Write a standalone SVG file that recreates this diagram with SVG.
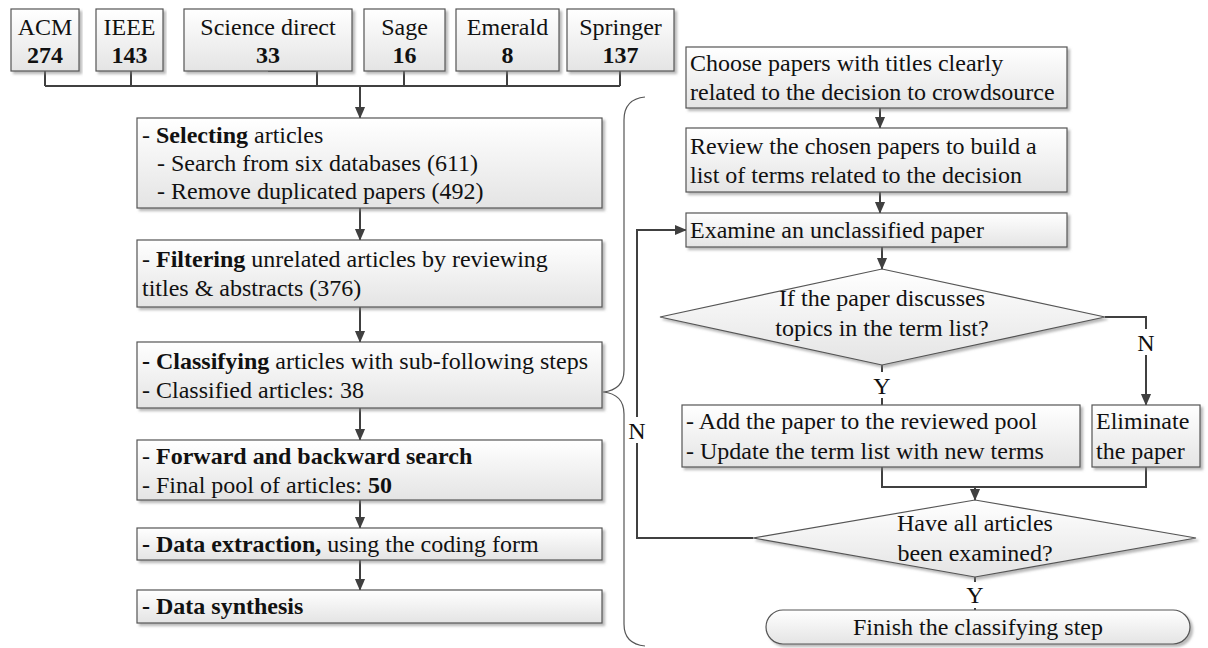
<svg xmlns="http://www.w3.org/2000/svg" width="1208" height="648" viewBox="0 0 1208 648">
<defs>
<linearGradient id="g" x1="0" y1="0" x2="0" y2="1">
<stop offset="0" stop-color="#ffffff"/>
<stop offset="1" stop-color="#e4e4e4"/>
</linearGradient>
<filter id="sh" x="-5%" y="-10%" width="110%" height="130%">
<feDropShadow dx="2.5" dy="2.5" stdDeviation="1.2" flood-color="#808080" flood-opacity="0.55"/>
</filter>
<marker id="ah" markerWidth="12" markerHeight="14" refX="13" refY="6" viewBox="0 0 14 12" orient="auto" markerUnits="userSpaceOnUse">
<path d="M0,0 L14,6 L0,12 Z" fill="#404040"/>
</marker>
</defs>
<style>
.b{fill:url(#g);stroke:#555;stroke-width:1.2;filter:url(#sh)}
.t{font-family:"Liberation Serif","Times New Roman",serif;font-size:24px;fill:#111}
.c{text-anchor:middle}
.bd{font-weight:bold}
.cn{fill:none;stroke:#404040;stroke-width:2}
.ar{marker-end:url(#ah)}
.br{fill:none;stroke:#555;stroke-width:1.2}
.lb{fill:#fff;stroke:none}
</style>

<g id="connectors">
<path class="cn" d="M45,71 V86 M131,71 V86 M268,71 H317 V86 M404,71 V86 M507,71 V86 M620,71 V86 M45,86 H620"/>
<path class="cn ar" d="M360,86 V118"/>
<path class="cn ar" d="M360,208 V240"/>
<path class="cn ar" d="M360,307 V342"/>
<path class="cn ar" d="M360,408 V440"/>
<path class="cn ar" d="M360,500 V528"/>
<path class="cn ar" d="M360,560 V590"/>
<path class="cn ar" d="M880,108 V128"/>
<path class="cn ar" d="M880,192 V213"/>
<path class="cn ar" d="M882,247 V269"/>
<path class="cn" d="M882,365 V405"/>
<path class="cn ar" d="M1105,317 H1146 V405"/>
<path class="cn" d="M882,467 V487 H1146 V467"/>
<path class="cn ar" d="M975,487 V500"/>
<path class="cn" d="M975,577 V610"/>
<path class="cn ar" d="M753,538 H637 V230 H686"/>
<path class="br" d="M645,97 Q624,99 624,120 V370 Q624,390 603,392 Q624,394 624,414 V624 Q624,644 645,646"/>
<rect class="lb" x="870" y="372" width="24" height="26"/>
<text class="t c" x="882" y="394">Y</text>
<rect class="lb" x="1134" y="329" width="24" height="26"/>
<text class="t c" x="1146" y="351">N</text>
<rect class="lb" x="625" y="417" width="24" height="26"/>
<text class="t c" x="637" y="439">N</text>
<rect class="lb" x="963" y="582" width="24" height="26"/>
<text class="t c" x="975" y="603">Y</text>
</g>

<g id="acm"><rect class="b" x="11" y="9" width="68" height="62"/><text class="t c" x="45" y="35">ACM</text><text class="t c bd" x="45" y="63">274</text></g>
<g id="ieee"><rect class="b" x="96" y="9" width="67" height="62"/><text class="t c" x="129.5" y="35">IEEE</text><text class="t c bd" x="129.5" y="63">143</text></g>
<g id="sciencedirect"><rect class="b" x="184" y="9" width="168" height="62"/><text class="t c" x="268" y="35">Science direct</text><text class="t c bd" x="268" y="63">33</text></g>
<g id="sage"><rect class="b" x="364" y="9" width="81" height="62"/><text class="t c" x="404.5" y="35">Sage</text><text class="t c bd" x="404.5" y="63">16</text></g>
<g id="emerald"><rect class="b" x="456" y="9" width="103" height="62"/><text class="t c" x="507.5" y="35">Emerald</text><text class="t c bd" x="507.5" y="63">8</text></g>
<g id="springer"><rect class="b" x="567" y="9" width="107" height="62"/><text class="t c" x="620.5" y="35">Springer</text><text class="t c bd" x="620.5" y="63">137</text></g>

<g id="selecting"><rect class="b" x="137" y="118" width="465" height="90"/>
<text class="t" x="142" y="143">- <tspan class="bd">Selecting</tspan> articles</text>
<text class="t" x="157" y="171">- Search from six databases (611)</text>
<text class="t" x="157" y="199">- Remove duplicated papers (492)</text></g>
<g id="filtering"><rect class="b" x="137" y="240" width="465" height="67"/>
<text class="t" x="142" y="267">- <tspan class="bd">Filtering</tspan> unrelated articles by reviewing</text>
<text class="t" x="142" y="296">titles &amp; abstracts (376)</text></g>
<g id="classifying"><rect class="b" x="137" y="342" width="465" height="66"/>
<text class="t" x="142" y="369"><tspan class="bd">- Classifying</tspan> articles with sub-following steps</text>
<text class="t" x="142" y="398">- Classified articles: 38</text></g>
<g id="forward"><rect class="b" x="137" y="440" width="465" height="60"/>
<text class="t" x="142" y="464">- <tspan class="bd">Forward and backward search</tspan></text>
<text class="t" x="142" y="493">- Final pool of articles: <tspan class="bd">50</tspan></text></g>
<g id="extraction"><rect class="b" x="137" y="528" width="465" height="32"/>
<text class="t" x="142" y="552"><tspan class="bd">- Data extraction,</tspan> using the coding form</text></g>
<g id="synthesis"><rect class="b" x="137" y="590" width="465" height="33"/>
<text class="t bd" x="142" y="614">- Data synthesis</text></g>

<g id="choose"><rect class="b" x="686" y="47" width="381" height="61"/>
<text class="t" x="690" y="71">Choose papers with titles clearly</text>
<text class="t" x="690" y="100">related to the decision to crowdsource</text></g>
<g id="review"><rect class="b" x="686" y="128" width="381" height="64"/>
<text class="t" x="690" y="154">Review the chosen papers to build a</text>
<text class="t" x="690" y="183">list of terms related to the decision</text></g>
<g id="examine"><rect class="b" x="686" y="213" width="381" height="34"/>
<text class="t" x="690" y="238">Examine an unclassified paper</text></g>
<g id="decision1"><polygon class="b" points="660,317 882,269 1105,317 882,365"/>
<text class="t c" x="882" y="306">If the paper discusses</text>
<text class="t c" x="882" y="336">topics in the term list?</text></g>
<g id="add"><rect class="b" x="682" y="405" width="398" height="62"/>
<text class="t" x="686" y="429">- Add the paper to the reviewed pool</text>
<text class="t" x="686" y="459">- Update the term list with new terms</text></g>
<g id="eliminate"><rect class="b" x="1092" y="405" width="108" height="62"/>
<text class="t" x="1096" y="429">Eliminate</text>
<text class="t" x="1096" y="459">the paper</text></g>
<g id="decision2"><polygon class="b" points="753,538 975,500 1196,538 975,577"/>
<text class="t c" x="975" y="531">Have all articles</text>
<text class="t c" x="975" y="561">been examined?</text></g>
<g id="finish"><rect class="b" x="766" y="610" width="424" height="34" rx="17" ry="17"/>
<text class="t c" x="978" y="635">Finish the classifying step</text></g>
</svg>
